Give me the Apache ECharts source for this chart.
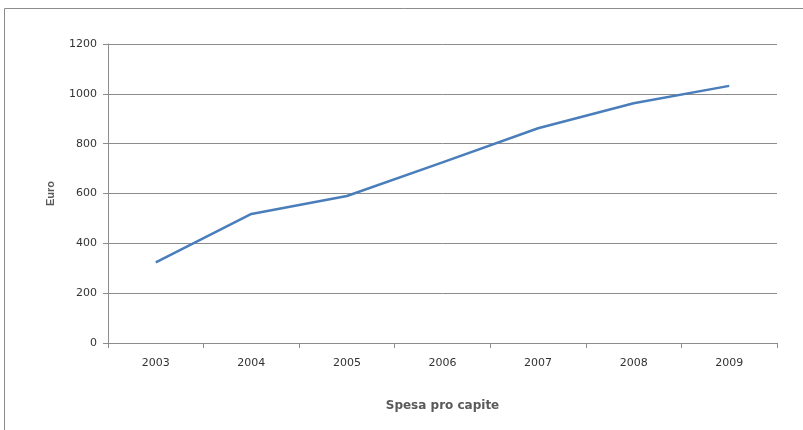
<!DOCTYPE html>
<html><head><meta charset="utf-8">
<script src="https://cdn.jsdelivr.net/npm/echarts@6/dist/echarts.min.js"></script>
<style>html,body{margin:0;padding:0;background:#fff}#c{width:803px;height:430px}</style>
</head><body><div id="c"></div>
<script>
var categories = ['2003','2004','2005','2006','2007','2008','2009'];
var values = [324, 518, 590, 725, 862, 962, 1032];
var yTicks = [0, 200, 400, 600, 800, 1000, 1200];
var chart = echarts.init(document.getElementById('c'));
chart.setOption({
  animation: false,
  graphic: [{type:'rect', shape:{x:4.5,y:8.5,width:900,height:500}, style:{fill:'none', stroke:'#8c8c8c', lineWidth:1}}],
  grid: {left:108, right:26, top:44, bottom:87},
  xAxis: {
    type:'category', data: categories, boundaryGap:true,
    name:'Spesa pro capite', nameLocation:'middle', nameGap:57,
    nameTextStyle:{fontFamily:'DejaVu Sans', fontWeight:'bold', fontSize:12, color:'#595959'},
    axisLine:{lineStyle:{color:'#8c8c8c'}},
    axisTick:{show:true, length:5, lineStyle:{color:'#8c8c8c'}, alignWithLabel:false},
    axisLabel:{fontFamily:'DejaVu Sans', fontSize:11, color:'#333', margin:15}
  },
  yAxis: {
    type:'value', min:yTicks[0], max:yTicks[yTicks.length-1], interval:200,
    name:'Euro', nameLocation:'middle', nameGap:52, nameRotate:90,
    nameTextStyle:{fontFamily:'Liberation Sans', fontWeight:'bold', fontSize:11, color:'#595959'},
    axisLine:{show:true, lineStyle:{color:'#8c8c8c'}},
    axisTick:{show:true, length:5, lineStyle:{color:'#8c8c8c'}},
    axisLabel:{fontFamily:'DejaVu Sans', fontSize:11, color:'#333', margin:11, formatter:function(v){return String(v);}},
    splitLine:{lineStyle:{color:'#8c8c8c', width:1}}
  },
  series: [{
    type:'line', data: values, showSymbol:false, symbol:'none',
    lineStyle:{color:'#4a7ebb', width:2.5}
  }]
});
</script></body></html>
